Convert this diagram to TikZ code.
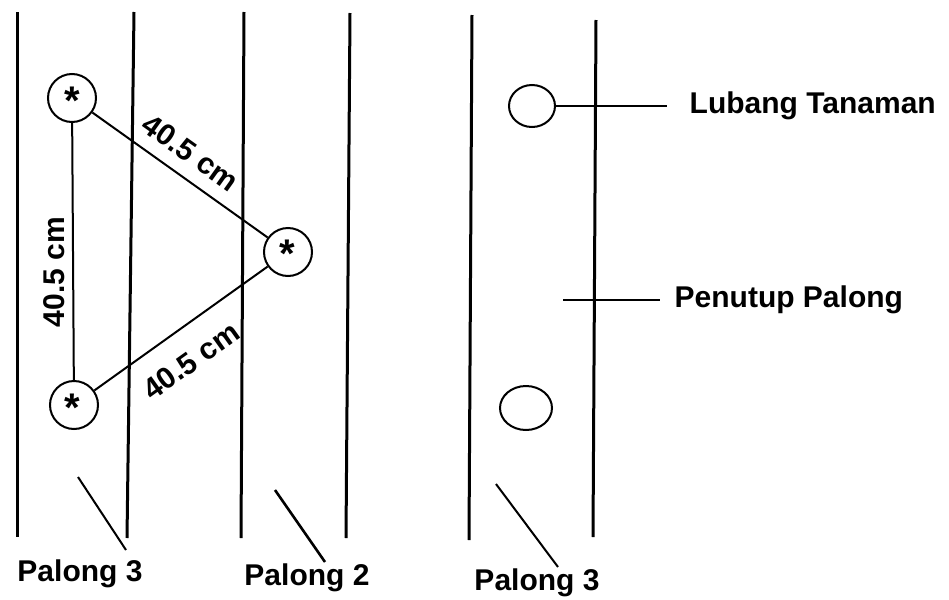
\documentclass[tikz,border=0pt]{standalone}
\usepackage{fontspec}
\setmainfont{Liberation Sans}
\usetikzlibrary{shapes.geometric}
\tikzstyle{every path}=[line width=1pt]
\tikzstyle{palong}=[line width=1.5pt]
\tikzstyle{lubang}=[draw, circle, minimum size=24pt, inner sep=0pt]
\tikzstyle{lubangkosong}=[draw, ellipse, inner sep=0pt]
\tikzstyle{bintang}=[font=\bfseries\fontsize{20}{20}\selectfont, inner sep=0pt]
\tikzstyle{tanda}=[font=\bfseries\fontsize{15}{18}\selectfont]

\begin{document}
\begin{tikzpicture}[x=0.5pt,y=-0.5pt]
            \useasboundingbox (0,0) rectangle (949,600);

            \draw[palong] (17,12) -- (17,537);
            \draw[palong] (134,12) -- (127,538);
            \draw[palong] (244,12) -- (241,538);
            \draw[palong] (350,13) -- (346,538);
            \draw[palong] (472,15) -- (469,540);
            \draw[palong] (596,20) -- (593,537);

            \node[lubang] (h1) at (72,98) {};
            \node[lubang] (h2) at (288,252) {};
            \node[lubang] (h3) at (74,405) {};
            \node[bintang] (b1) at (72,101) {*};
            \node[bintang] (b2) at (287,254) {*};
            \node[bintang] (b3) at (72,408) {*};

            \draw (h1) -- (h2)
                node[pos=0.48, sloped, above=3pt, tanda]{40.5 cm};
            \draw (h3) -- (h2)
                node[pos=0.45, sloped, below=7pt, tanda]{40.5 cm};
            \draw (h3) -- (h1)
                node[pos=0.42, rotate=90, anchor=south, outer sep=1pt, tanda]{40.5 cm};

            \node[lubangkosong, minimum width=23pt, minimum height=21pt] (e1) at (532,106) {};
            \node[lubangkosong, minimum width=26pt, minimum height=22pt] (e2) at (526,408) {};

            \node[tanda, anchor=west] (lubang) at (682,106) {Lubang Tanaman};
            \node[tanda, anchor=west] (penutup) at (667,300) {Penutup Palong};
            \coordinate (q1) at (563,300);
            \draw[line width=1.3pt, shorten >=7.5pt] (e1.east) -- (lubang.west);
            \draw[line width=1.2pt, shorten >=3.5pt] (q1) -- (penutup.west);

            \node[tanda] (palong3a) at (80,574) {Palong 3};
            \node[tanda] (palong2) at (307,578) {Palong 2};
            \node[tanda] (palong3b) at (537,583) {Palong 3};
            \coordinate (u1) at (78,477);
            \coordinate (v1) at (126,550);
            \coordinate (u2) at (275,490);
            \coordinate (v2) at (325,562);
            \coordinate (u3) at (496,484);
            \coordinate (v3) at (558,567);
            \draw (u1) -- (v1);
            \draw[line width=1.3pt] (u2) -- (v2);
            \draw (u3) -- (v3);
        \end{tikzpicture}
\end{document}
